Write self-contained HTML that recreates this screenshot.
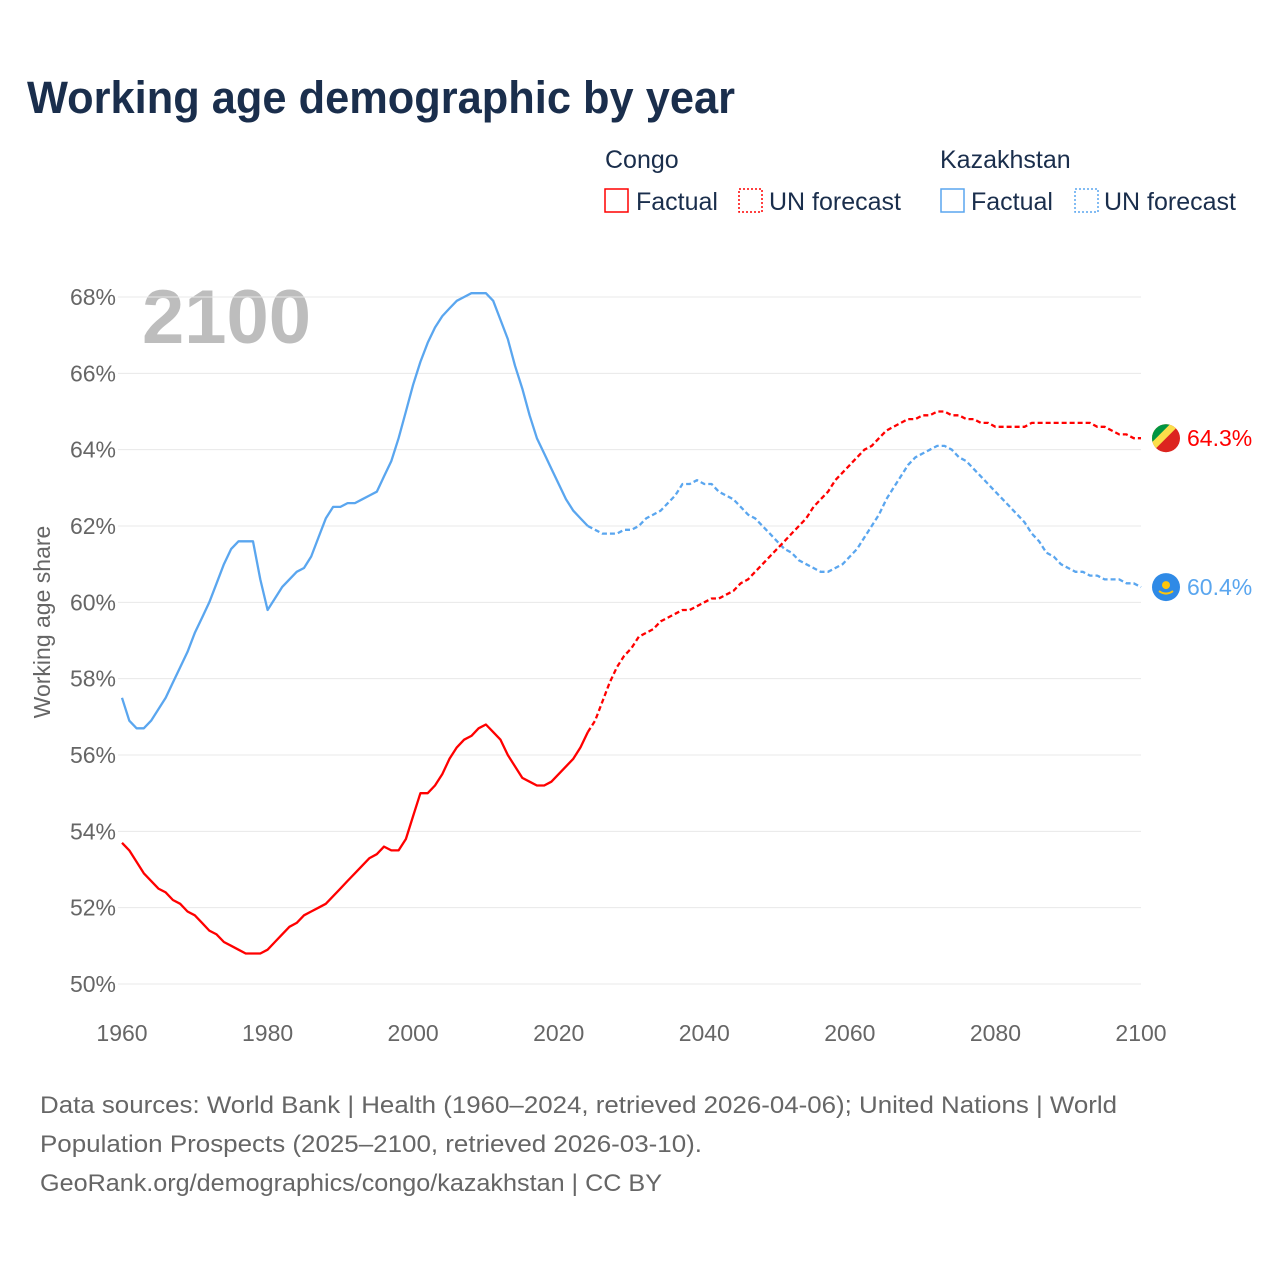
<!DOCTYPE html>
<html><head><meta charset="utf-8"><style>
body{margin:0;background:#fff;font-family:"Liberation Sans",sans-serif;}
svg{display:block}
</style></head><body>
<svg id="c" width="1280" height="1280" viewBox="0 0 1280 1280">
<text x="27" y="113" font-size="45" font-weight="bold" fill="#1a2e4c" textLength="708" lengthAdjust="spacingAndGlyphs">Working age demographic by year</text>
<g font-size="25" fill="#1a2e4c">
<text x="605" y="168">Congo</text>
<rect x="605" y="189" width="23" height="23" fill="none" stroke="#f00" stroke-width="1.5"/>
<text x="636" y="210">Factual</text>
<rect x="739" y="189" width="23" height="23" fill="none" stroke="#f00" stroke-width="1.5" stroke-dasharray="2,2"/>
<text x="769" y="210">UN forecast</text>
<text x="940" y="168">Kazakhstan</text>
<rect x="941" y="189" width="23" height="23" fill="none" stroke="#5aa6ef" stroke-width="1.5"/>
<text x="971" y="210">Factual</text>
<rect x="1075" y="189" width="23" height="23" fill="none" stroke="#5aa6ef" stroke-width="1.5" stroke-dasharray="2,2"/>
<text x="1104" y="210">UN forecast</text>
</g>
<text x="142" y="343" font-size="76" font-weight="bold" fill="#bdbdbd">2100</text>
<text transform="translate(50,622) rotate(-90)" text-anchor="middle" font-size="23" fill="#666">Working age share</text>
<g id="grid"></g><g id="lines"></g>
<text x="40" y="1113" font-size="24" fill="#666" textLength="1077" lengthAdjust="spacingAndGlyphs">Data sources: World Bank | Health (1960–2024, retrieved 2026-04-06); United Nations | World</text>
<text x="40" y="1152" font-size="24" fill="#666" textLength="662" lengthAdjust="spacingAndGlyphs">Population Prospects (2025–2100, retrieved 2026-03-10).</text>
<text x="40" y="1191" font-size="24" fill="#666" textLength="622" lengthAdjust="spacingAndGlyphs">GeoRank.org/demographics/congo/kazakhstan | CC BY</text>
</svg>
<script>
const yTicks=[50,52,54,56,58,60,62,64,66,68];
const xTicks=[1960,1980,2000,2020,2040,2060,2080,2100];
const kazFactual=[57.5,56.9,56.7,56.7,56.9,57.2,57.5,57.9,58.3,58.7,59.2,59.6,60.0,60.5,61.0,61.4,61.6,61.6,61.6,60.6,59.8,60.1,60.4,60.6,60.8,60.9,61.2,61.7,62.2,62.5,62.5,62.6,62.6,62.7,62.8,62.9,63.3,63.7,64.3,65.0,65.7,66.3,66.8,67.2,67.5,67.7,67.9,68.0,68.1,68.1,68.1,67.9,67.4,66.9,66.2,65.6,64.9,64.3,63.9,63.5,63.1,62.7,62.4,62.2,62.0];
const kazForecast=[62.0,61.9,61.8,61.8,61.8,61.9,61.9,62.0,62.2,62.3,62.4,62.6,62.8,63.1,63.1,63.2,63.1,63.1,62.9,62.8,62.7,62.5,62.3,62.2,62.0,61.8,61.6,61.4,61.3,61.1,61.0,60.9,60.8,60.8,60.9,61.0,61.2,61.4,61.7,62.0,62.3,62.7,63.0,63.3,63.6,63.8,63.9,64.0,64.1,64.1,64.0,63.8,63.7,63.5,63.3,63.1,62.9,62.7,62.5,62.3,62.1,61.8,61.6,61.3,61.2,61.0,60.9,60.8,60.8,60.7,60.7,60.6,60.6,60.6,60.5,60.5,60.4];
const congoFactual=[53.7,53.5,53.2,52.9,52.7,52.5,52.4,52.2,52.1,51.9,51.8,51.6,51.4,51.3,51.1,51.0,50.9,50.8,50.8,50.8,50.9,51.1,51.3,51.5,51.6,51.8,51.9,52.0,52.1,52.3,52.5,52.7,52.9,53.1,53.3,53.4,53.6,53.5,53.5,53.8,54.4,55.0,55.0,55.2,55.5,55.9,56.2,56.4,56.5,56.7,56.8,56.6,56.4,56.0,55.7,55.4,55.3,55.2,55.2,55.3,55.5,55.7,55.9,56.2,56.6];
const congoForecast=[56.6,56.9,57.4,57.9,58.3,58.6,58.8,59.1,59.2,59.3,59.5,59.6,59.7,59.8,59.8,59.9,60.0,60.1,60.1,60.2,60.3,60.5,60.6,60.8,61.0,61.2,61.4,61.6,61.8,62.0,62.2,62.5,62.7,62.9,63.2,63.4,63.6,63.8,64.0,64.1,64.3,64.5,64.6,64.7,64.8,64.8,64.9,64.9,65.0,65.0,64.9,64.9,64.8,64.8,64.7,64.7,64.6,64.6,64.6,64.6,64.6,64.7,64.7,64.7,64.7,64.7,64.7,64.7,64.7,64.7,64.6,64.6,64.5,64.4,64.4,64.3,64.3];
const X=y=>122+(y-1960)*(1019/140);
const Y=v=>984-(v-50)*(687/18);
const NS="http://www.w3.org/2000/svg";
function mk(tag,attrs,parent){const e=document.createElementNS(NS,tag);for(const k in attrs)e.setAttribute(k,attrs[k]);parent.appendChild(e);return e;}
const grid=document.getElementById('grid');
yTicks.forEach(t=>{
  const l=mk('line',{x1:118,x2:1141,y1:Y(t),y2:Y(t),stroke:'#e8e8e8','stroke-width':1},grid);
  
  
  const tx=mk('text',{x:116,y:Y(t)+8,'text-anchor':'end','font-size':23,fill:'#666'},grid);
  tx.textContent=t+'%';
  
  
});
xTicks.forEach(t=>{
  const tx=mk('text',{x:X(t),y:1041,'text-anchor':'middle','font-size':23,fill:'#666'},grid);
  tx.textContent=t;
  
  
});
const lines=document.getElementById('lines');
function path(arr,start,color,dash,name){
  const d=arr.map((v,i)=>(i?'L':'M')+X(start+i).toFixed(1)+','+Y(v).toFixed(1)).join('');
  const p=mk('path',{d:d,fill:'none',stroke:color,'stroke-width':2.3,'stroke-linejoin':'round'},lines);
  if(dash)p.setAttribute('stroke-dasharray','5,3');
  
  
}
path(kazFactual,1960,'#5aa6ef',false,'kazakhstan-factual-line');
path(kazForecast,2024,'#5aa6ef',true,'kazakhstan-forecast-line');
path(congoFactual,1960,'#ff0000',false,'congo-factual-line');
path(congoForecast,2024,'#ff0000',true,'congo-forecast-line');
const cy=Y(congoForecast[congoForecast.length-1]), ky=Y(kazForecast[kazForecast.length-1]);
const cg=mk('g',{},lines);


mk('defs',{},cg).innerHTML='<clipPath id="cc"><circle cx="1166" cy="'+cy+'" r="14"/></clipPath>';
const g2=mk('g',{'clip-path':'url(#cc)'},cg);
mk('rect',{x:1150,y:cy-16,width:32,height:32,fill:'#dc241f'},g2);
mk('polygon',{points:`1150,${cy-16} 1182,${cy-16} 1150,${cy+16}`,fill:'#fbde4a'},g2);
mk('polygon',{points:`1150,${cy-16} 1172,${cy-16} 1150,${cy+6}`,fill:'#009543'},g2);
const ct=mk('text',{x:1187,y:cy+8,'font-size':23,fill:'#f00'},lines);
ct.textContent='64.3%';


const kg=mk('g',{},lines);


mk('circle',{cx:1166,cy:ky,r:14,fill:'#2f8ae6'},kg);
mk('circle',{cx:1166,cy:ky-2,r:4,fill:'#fec50c'},kg);
mk('path',{d:`M1159,${ky+4} Q1166,${ky+9} 1173,${ky+4}`,stroke:'#fec50c','stroke-width':2,fill:'none'},kg);
const kt=mk('text',{x:1187,y:ky+8,'font-size':23,fill:'#5aa6ef'},lines);
kt.textContent='60.4%';


</script>
</body></html>
